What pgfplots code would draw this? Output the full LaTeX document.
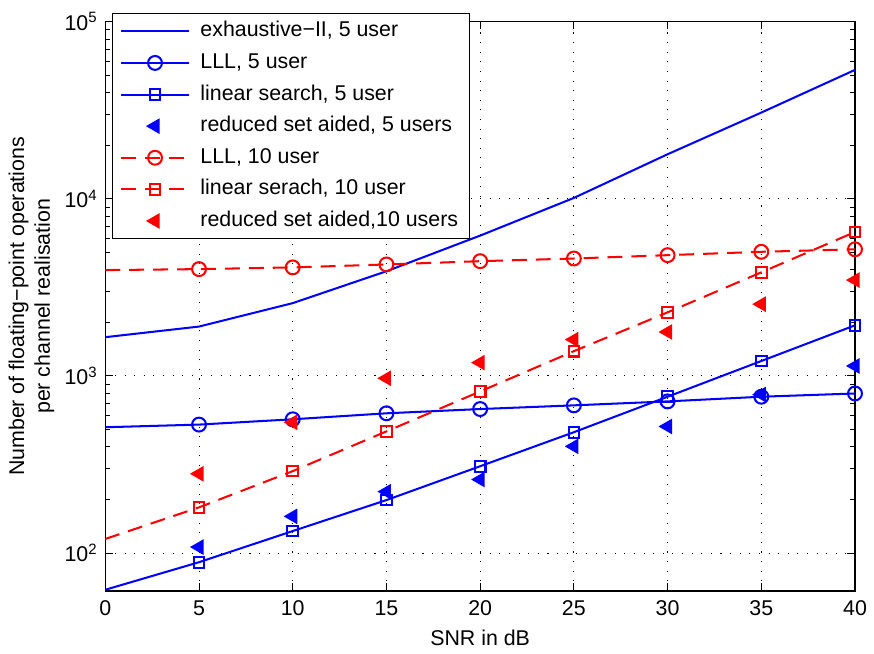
\documentclass[border=0pt]{standalone}
\usepackage{fontspec}
\setmainfont{Liberation Sans}
\usepackage{pgfplots}
\pgfplotsset{compat=1.18}

\definecolor{mblue}{rgb}{0,0,1}
\definecolor{mred}{rgb}{1,0,0}

\begin{document}
\begin{tikzpicture}
\begin{axis}[
  name=ax,
  scale only axis,
  width=351pt, height=266.5pt,
  font=\fontsize{10}{12}\selectfont,
  xmin=0, xmax=40,
  ymode=log, ymin=61, ymax=1e5,
  xtick={0,5,...,40},
  ytick={100,1000,10000,100000},
  yticklabels={10\textsuperscript{2},10\textsuperscript{3},10\textsuperscript{4},10\textsuperscript{5}},
  /pgf/number format/assume math mode=true,
  tick align=inside, tick pos=both,
  major tick length=3.6pt, minor tick length=2.2pt,
  every tick/.style={black, line width=0.4pt},
  axis line style={line width=0.5pt},
  grid=major,
  major grid style={black, line width=0.45pt, dash pattern=on 0.5pt off 4pt},
  xlabel={SNR in dB},
  ylabel={Number of floating−point operations\\per channel realisation},
  ylabel style={align=center, yshift=-2pt},
  xticklabel style={yshift=-1pt},
  clip mode=individual,
  every axis plot/.append style={line width=0.95pt},
  legend style={at={(0.00927,1.0157)}, anchor=north west, draw=black,
    line width=0.5pt, inner xsep=3.5pt, inner ysep=1pt, column sep=3pt,
    nodes={text height=7.2pt, text depth=2pt, inner ysep=2.8pt},
    font=\fontsize{10}{12}\selectfont},
  legend cell align=left,
  legend image code/.code={\draw[#1, mark indices={2}] plot coordinates {(0pt,0pt) (15.8pt,0pt) (31.6pt,0pt)};},
]

% exhaustive-II, 5 users
\addplot[mblue, mark=none] coordinates {
  (0,1655) (5,1900) (10,2577) (15,3900) (20,6200) (25,10120) (30,17860) (35,30700) (40,53500)};
\addlegendentry{exhaustive−II, 5 user}

% LLL, 5 users
\addplot[mblue, mark=o, mark size=3.25pt, mark indices={2,3,4,5,6,7,8,9},
  mark options={solid, fill=white}] coordinates {
  (0,513) (5,531) (10,569) (15,615) (20,650) (25,682) (30,718) (35,763) (40,796)};
\addlegendentry{LLL, 5 user}

% linear search, 5 users
\addplot[mblue, mark=square, mark size=2.5pt, mark indices={2,3,4,5,6,7,8,9},
  mark options={solid}] coordinates {
  (0,62) (5,88.7) (10,133) (15,199) (20,309) (25,481) (30,763) (35,1214) (40,1931)};
\addlegendentry{linear search, 5 user}

% reduced set aided, 5 users
\addplot[mblue, only marks, mark=triangle*, mark size=3.3pt,
  mark options={rotate=90, solid}] coordinates {
  (5,108) (10,161) (15,222) (20,260) (25,400) (30,518) (35,785) (40,1138)};
\addlegendentry{reduced set aided, 5 users}

% LLL, 10 users
\addplot[mred, dash pattern=on 7pt off 4.2pt, mark=o, mark size=3.25pt,
  mark indices={2,3,4,5,6,7,8,9}, mark options={solid}] coordinates {
  (0,3960) (5,4010) (10,4100) (15,4260) (20,4446) (25,4603) (30,4808) (35,5023) (40,5190)};
\addlegendentry{LLL, 10 user}

% linear search, 10 users
\addplot[mred, dash pattern=on 7pt off 4.2pt, mark=square, mark size=2.5pt,
  mark indices={2,3,4,5,6,7,8,9}, mark options={solid}] coordinates {
  (0,120) (5,181) (10,290) (15,486) (20,817) (25,1380) (30,2285) (35,3845) (40,6500)};
\addlegendentry{linear serach, 10 user}

% reduced set aided, 10 users
\addplot[mred, only marks, mark=triangle*, mark size=3.3pt,
  mark options={rotate=90, solid}] coordinates {
  (5,280) (10,547) (15,970) (20,1189) (25,1604) (30,1771) (35,2543) (40,3478)};
\addlegendentry{reduced set aided,10 users}

\end{axis}
% page frame around the axis and its labels
\path ([xshift=-49.3pt,yshift=-27pt]ax.south west) rectangle ([xshift=6pt,yshift=10.2pt]ax.north east);
\end{tikzpicture}
\end{document}
